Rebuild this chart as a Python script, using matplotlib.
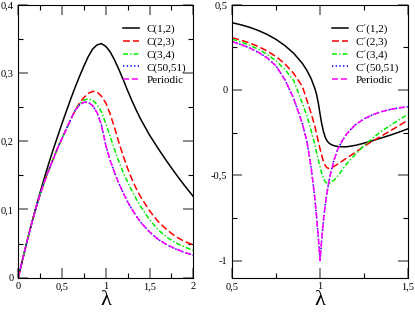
import matplotlib
matplotlib.use('Agg')
import matplotlib.pyplot as plt
from matplotlib.ticker import MultipleLocator, FuncFormatter

# left panel: concurrences
lam_c = [0, 0.05, 0.1, 0.15, 0.2, 0.25, 0.3, 0.35, 0.4, 0.45, 0.5, 0.55, 0.6, 0.65, 0.7,
         0.75, 0.8, 0.85, 0.9, 0.95, 1.0, 1.05, 1.1, 1.15, 1.2, 1.25, 1.3, 1.35, 1.4,
         1.5, 1.6, 1.7, 1.8, 1.9, 2.0]
c12 = [0, 0.027, 0.053, 0.078, 0.102, 0.125, 0.147, 0.168, 0.188, 0.207, 0.226, 0.244,
       0.262, 0.279, 0.295, 0.31, 0.324, 0.335, 0.341, 0.343, 0.339, 0.331, 0.319, 0.305,
       0.29, 0.274, 0.259, 0.245, 0.232, 0.209, 0.189, 0.17, 0.152, 0.135, 0.119]
c23 = [0, 0.027, 0.053, 0.078, 0.101, 0.122, 0.141, 0.158, 0.174, 0.19, 0.204, 0.218, 0.232,
       0.245, 0.256, 0.264, 0.27, 0.273, 0.272, 0.266, 0.256, 0.24, 0.22, 0.198, 0.178,
       0.16, 0.144, 0.13, 0.118, 0.098, 0.082, 0.07, 0.06, 0.053, 0.048]
c34 = [0, 0.027, 0.053, 0.078, 0.101, 0.122, 0.141, 0.158, 0.174, 0.19, 0.204, 0.218, 0.232,
       0.245, 0.255, 0.26, 0.262, 0.26, 0.254, 0.243, 0.226, 0.207, 0.188, 0.17, 0.154,
       0.14, 0.127, 0.115, 0.104, 0.085, 0.07, 0.059, 0.051, 0.045, 0.04]
c5051 = [0, 0.027, 0.053, 0.078, 0.101, 0.122, 0.141, 0.158, 0.174, 0.19, 0.204, 0.218, 0.232,
         0.245, 0.253, 0.257, 0.257, 0.252, 0.242, 0.224, 0.194, 0.172, 0.154, 0.138, 0.124,
         0.111, 0.1, 0.09, 0.081, 0.067, 0.056, 0.048, 0.042, 0.037, 0.033]
cper = [0, 0.027, 0.053, 0.078, 0.101, 0.122, 0.141, 0.158, 0.174, 0.19, 0.204, 0.218, 0.232,
        0.245, 0.253, 0.257, 0.257, 0.252, 0.242, 0.224, 0.194, 0.172, 0.154, 0.138, 0.124,
        0.111, 0.1, 0.09, 0.081, 0.067, 0.056, 0.048, 0.042, 0.037, 0.033]

# right panel: derivatives
lam_d = [0.5, 0.55, 0.6, 0.65, 0.7, 0.75, 0.8, 0.85, 0.9, 0.925, 0.95, 0.97, 0.98, 0.99,
         1.0, 1.01, 1.02, 1.03, 1.04, 1.05, 1.06, 1.08, 1.1, 1.125, 1.15, 1.2, 1.25, 1.3,
         1.35, 1.4, 1.45, 1.5]
d12 = [0.394, 0.382, 0.367, 0.348, 0.325, 0.296, 0.26, 0.215, 0.155, 0.115, 0.065, 0.01,
       -0.025, -0.075, -0.14, -0.2, -0.245, -0.278, -0.298, -0.31, -0.318, -0.327, -0.331,
       -0.333, -0.333, -0.325, -0.312, -0.297, -0.281, -0.265, -0.247, -0.228]
d23 = [0.306, 0.292, 0.275, 0.254, 0.228, 0.195, 0.153, 0.097, 0.02, -0.06, -0.14, -0.21,
       -0.255, -0.3, -0.345, -0.385, -0.42, -0.443, -0.456, -0.46, -0.457, -0.448, -0.435,
       -0.418, -0.4, -0.367, -0.33, -0.3, -0.27, -0.24, -0.209, -0.178]
d34 = [0.297, 0.281, 0.262, 0.238, 0.208, 0.17, 0.12, 0.055, -0.08, -0.15, -0.24, -0.32,
       -0.365, -0.41, -0.45, -0.49, -0.52, -0.538, -0.547, -0.548, -0.543, -0.528, -0.505,
       -0.47, -0.435, -0.378, -0.327, -0.282, -0.242, -0.208, -0.175, -0.143]
d5051 = [0.283, 0.266, 0.246, 0.22, 0.187, 0.14, 0.06, -0.05, -0.2, -0.3, -0.46, -0.63,
         -0.74, -0.86, -1.0, -0.87, -0.76, -0.67, -0.6, -0.54, -0.49, -0.41, -0.35, -0.3,
         -0.26, -0.205, -0.17, -0.145, -0.127, -0.114, -0.105, -0.098]
dper = [0.283, 0.266, 0.246, 0.22, 0.187, 0.14, 0.06, -0.05, -0.2, -0.3, -0.46, -0.63,
        -0.74, -0.86, -1.0, -0.87, -0.76, -0.67, -0.6, -0.54, -0.49, -0.41, -0.35, -0.3,
        -0.26, -0.205, -0.17, -0.145, -0.127, -0.114, -0.105, -0.098]

labels_c = ['C(1,2)', 'C(2,3)', 'C(3,4)', 'C(50,51)', 'Periodic']
labels_d = ['C\u00b4(1,2)', 'C\u00b4(2,3)', 'C\u00b4(3,4)', 'C\u00b4(50,51)', 'Periodic']

plt.rcParams['font.family'] = ['Liberation Serif', 'DejaVu Serif']


def comma(v, pos):
    return ('%g' % v).replace('.', ',')


def style_axes(ax):
    ax.tick_params(which='both', direction='in', top=True, right=True, labelsize=7.5)
    ax.tick_params(which='major', length=7, width=1.2, color='#777777')
    ax.tick_params(which='minor', length=3.5, width=0.8)
    ax.xaxis.set_major_formatter(FuncFormatter(comma))
    ax.yaxis.set_major_formatter(FuncFormatter(comma))
    ax.set_xlabel('\u03bb', fontsize=16, labelpad=0)


def draw(ax, x, ys, labels):
    ax.plot(x, ys[0], color='black', lw=1.1, label=labels[0])
    ax.plot(x, ys[1], color='red', lw=1.1, dashes=(4.5, 2), label=labels[1])
    ax.plot(x, ys[2], color='#00ee00', lw=1.1, dashes=(3.2, 1.4, 0.9, 1.4), label=labels[2])
    ax.plot(x, ys[3], color='blue', lw=1.1, dashes=(0.9, 1.5), label=labels[3])
    ax.plot(x, ys[4], color='magenta', lw=1.1, dashes=(4, 1.8), label=labels[4])


fig = plt.figure(figsize=(4.15, 3.13), dpi=100)

ax1 = fig.add_axes([0.044, 0.113, 0.4217, 0.872])
draw(ax1, lam_c, [c12, c23, c34, c5051, cper], labels_c)
ax1.set_xlim(0, 2)
ax1.set_ylim(0, 0.4)
ax1.xaxis.set_major_locator(MultipleLocator(0.5))
ax1.xaxis.set_minor_locator(MultipleLocator(0.25))
ax1.yaxis.set_major_locator(MultipleLocator(0.1))
ax1.yaxis.set_minor_locator(MultipleLocator(0.05))
style_axes(ax1)
ax1.legend(loc='upper right', bbox_to_anchor=(0.985, 0.945), frameon=False, fontsize=8,
           handlelength=1.4, handletextpad=0.7, labelspacing=0.25, borderaxespad=0)

ax2 = fig.add_axes([0.5598, 0.113, 0.4227, 0.872])
draw(ax2, lam_d, [d12, d23, d34, d5051, dper], labels_d)
ax2.set_xlim(0.5, 1.5)
ax2.set_ylim(-1.1, 0.5)
ax2.xaxis.set_major_locator(MultipleLocator(0.5))
ax2.xaxis.set_minor_locator(MultipleLocator(0.25))
ax2.yaxis.set_major_locator(MultipleLocator(0.5))
ax2.yaxis.set_minor_locator(MultipleLocator(0.25))
style_axes(ax2)
ax2.legend(loc='upper right', bbox_to_anchor=(0.975, 0.945), frameon=False, fontsize=8,
           handlelength=1.4, handletextpad=0.7, labelspacing=0.25, borderaxespad=0)

fig.savefig('out.png', dpi=100)
